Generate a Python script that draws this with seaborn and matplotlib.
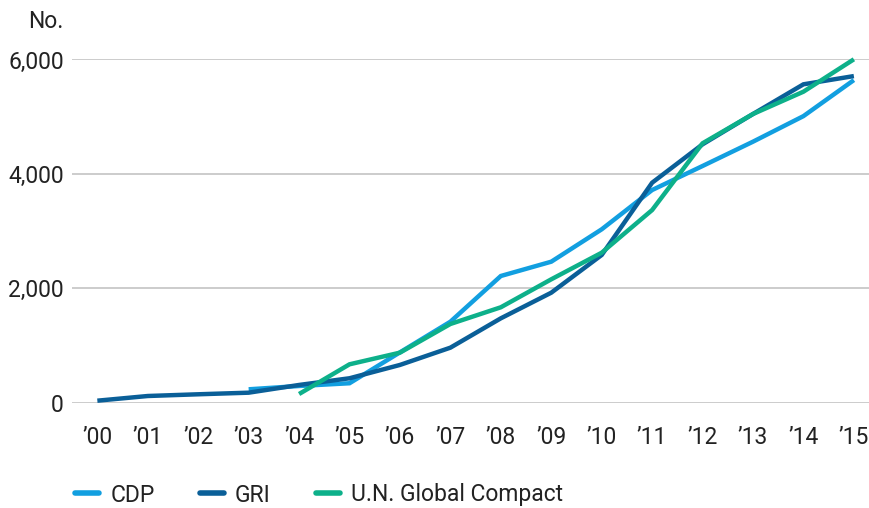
import numpy as np
import pandas as pd
import matplotlib
matplotlib.use('Agg')
import matplotlib.pyplot as plt
import seaborn as sns

years = list(range(2000, 2016))
year_labels = ["’" + str(y)[2:] for y in years]

# values (nan = no data that year)
cdp = [np.nan, np.nan, np.nan, 234, 292, 340, 880, 1416, 2215, 2465, 3031, 3718, 4138, 4563, 5010, 5640]
gri = [35, 117, 147, 175, 310, 427, 660, 962, 1475, 1923, 2582, 3846, 4517, 5047, 5566, 5710]
ungc = [np.nan, np.nan, np.nan, np.nan, 152, 671, 875, 1376, 1668, 2157, 2622, 3368, 4535, 5047, 5437, 6003]

series_names = ['CDP', 'GRI', 'U.N. Global Compact']
colors = ['#129fe0', '#0a5f98', '#0db08a']

df = pd.DataFrame({'idx': list(range(len(years))) * 3,
                   'value': cdp + gri + ungc,
                   'series': [s for s in series_names for _ in years]}).dropna()

sns.set_style('white')
plt.rcParams['font.family'] = ['Roboto', 'DejaVu Sans']

fig = plt.figure(figsize=(8.69, 5.08), dpi=100)
ax = fig.add_axes([0.083, 0.2073, 0.917, 0.6756])

sns.lineplot(data=df, x='idx', y='value', hue='series', hue_order=series_names,
             palette=colors, linewidth=3.2, ax=ax, legend=True)
for ln in ax.lines:
    ln.set_clip_on(False)
    ln.set_solid_capstyle('butt')
    ln.set_solid_joinstyle('miter')

ax.set_xlim(-0.5, 15.3)
ax.set_ylim(0, 6000)
ax.set_yticks([0, 2000, 4000, 6000])
ax.set_yticklabels(['0', '2,000', '4,000', '6,000'])
ax.set_xticks(range(len(years)))
ax.set_xticklabels(year_labels)
ax.grid(axis='y', color='#c8c8c8', linewidth=1.3)
ax.set_axisbelow(True)
for s in ax.spines.values():
    s.set_visible(False)
ax.tick_params(axis='y', length=0, pad=6, labelsize=16.5, labelcolor='#222222')
ax.tick_params(axis='x', length=0, pad=17, labelsize=16.5, labelcolor='#222222')
ax.set_xlabel('')
ax.set_ylabel('')

fig.text(63 / 869, 1 - 22 / 508, 'No.', ha='right', va='center', fontsize=16.5, color='#222222')

handles, labels = ax.get_legend_handles_labels()
for h in handles:
    h.set_linewidth(4)
    h.set_solid_capstyle('round')
leg = ax.legend(handles, labels, loc='center left', bbox_to_anchor=(75 / 869, 1 - 495 / 508),
                bbox_transform=fig.transFigure, ncol=3, frameon=False, fontsize=16.5,
                handlelength=1.05, handletextpad=0.5, columnspacing=1.95, borderaxespad=0, borderpad=0)
for t in leg.get_texts():
    t.set_color('#222222')

fig.savefig('out.png', dpi=100)
